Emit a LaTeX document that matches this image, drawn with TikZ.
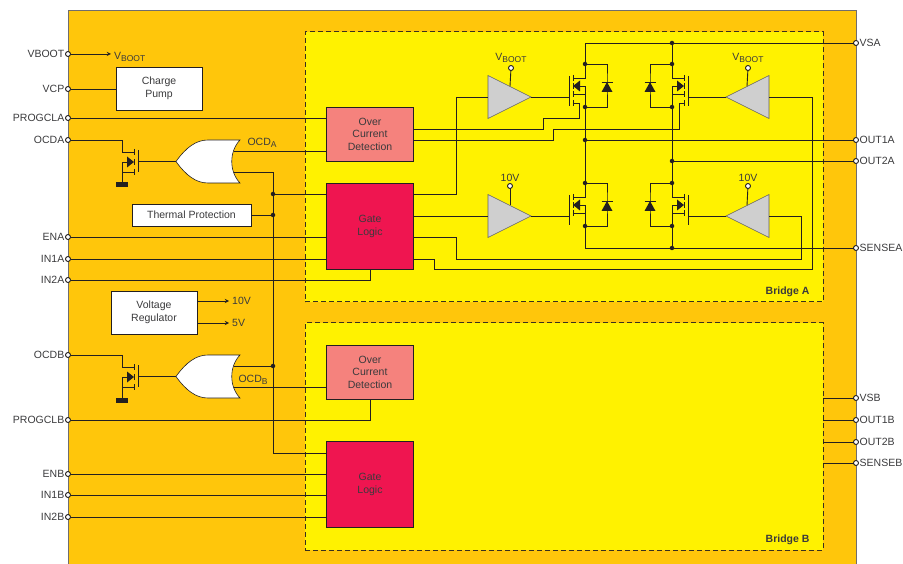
\documentclass[tikz,border=0pt]{standalone}
\usepackage{fontspec}
\setmainfont{Liberation Sans}
\usetikzlibrary{arrows, positioning}
\definecolor{chipfill}{HTML}{FFC60B}
\definecolor{bridgefill}{HTML}{FFF200}
\definecolor{ocdfill}{HTML}{F5827D}
\definecolor{logicfill}{HTML}{EF1550}
\definecolor{ampfill}{HTML}{CFCFCF}
\definecolor{inkdark}{HTML}{231F20}
\definecolor{txtdark}{HTML}{3A3A3C}
\tikzstyle{wire} = [line width=0.9pt, draw=inkdark]
\tikzstyle{arrow} = [line width=0.9pt, draw=inkdark, ->, >=stealth]
\tikzstyle{whitebox} = [rectangle, draw=inkdark, line width=0.9pt, fill=white, text=txtdark, align=center, outer sep=0pt, inner sep=0pt]
\tikzstyle{ocdbox} = [rectangle, draw=inkdark, line width=0.9pt, fill=ocdfill, text=txtdark, align=center, minimum width=87pt, minimum height=54pt, outer sep=0pt]
\tikzstyle{logicbox} = [rectangle, draw=inkdark, line width=0.9pt, fill=logicfill, text=txtdark, align=center, minimum width=87pt, minimum height=86.5pt, outer sep=0pt]
\tikzstyle{bridge} = [rectangle, draw=inkdark!90!chipfill, line width=1pt, dashed, dash pattern=on 5pt off 3pt, fill=bridgefill, minimum width=518pt, outer sep=0pt]
\tikzstyle{pad} = [circle, draw=inkdark, line width=0.9pt, fill=white, minimum size=5pt, inner sep=0pt, outer sep=0pt]
\tikzstyle{junction} = [circle, fill=inkdark, minimum size=4.5pt, inner sep=0pt, outer sep=0pt]
\tikzstyle{pintext} = [text=txtdark, inner sep=1pt]
\tikzset{every node/.append style={font=\fontsize{10.5}{12.5}\selectfont}}
\newcommand{\subtxt}[2]{#1\raisebox{-2.5pt}{\fontsize{8.5}{10}\selectfont #2}}
% name, x, y of the upper stub, direction, stub spacing, gate bar length
\newcommand{\fetsym}[6]{
  \begin{scope}[shift={(#2,#3)}, xscale=#4]
    \coordinate (#1-d) at (-12,0);
    \coordinate (#1-s) at (-5,#5);
    \coordinate (#1-b) at (-12,2*#5);
    \coordinate (#1-t) at (-12,3*#5+1);
    \coordinate (#1-g) at (-16,0);
    \draw [wire] (-16,-2) -- (-16,#6-2);
    \draw [wire] (-12,-3) -- (-12,3);
    \draw [wire] (-12,#5-3) -- (-12,#5+3);
    \draw [wire] (-12,2*#5-3) -- (-12,2*#5+3);
    \draw [wire] (-12,0) -- (0,0);
    \draw [wire] (-12,2*#5) -- (0,2*#5);
    \fill [inkdark] (-12,#5) -- (-5,#5-5.5) -- (-5,#5+5.5) -- cycle;
  \end{scope}
}
\newcommand{\ampsym}[4]{
  \begin{scope}[shift={(#2,#3)}, xscale=#4]
    \coordinate (#1-in) at (0,0);
    \coordinate (#1-out) at (43,0);
    \coordinate (#1-p) at (22,-10.75);
    \draw [fill=ampfill, draw=inkdark!70, line width=0.6pt] (0,-21.5) -- (43,0) -- (0,21.5) -- cycle;
  \end{scope}
}
\newcommand{\diodesym}[3]{
  \coordinate (#1) at (#2,#3);
  \fill [inkdark] (#2,#3) -- (#2-5.5,#3+10) -- (#2+5.5,#3+10) -- cycle;
  \draw [wire] (#2-5.5,#3) -- (#2+5.5,#3);
}
\newcommand{\orgate}[3]{
  \begin{scope}[shift={(#2,#3)}]
    \coordinate (#1-g) at (0,0);
    \coordinate (#1-t) at (58,-10.5);
    \coordinate (#1-b) at (58,10.5);
    \draw [fill=white, draw=inkdark, line width=0.6pt] (64,-21.5) -- (32,-21.5) .. controls (20,-21.5) and (10,-14) .. (0,0) .. controls (10,14) and (20,21.5) .. (32,21.5) -- (64,21.5) .. controls (53,10) and (53,-10) .. (64,-21.5) -- cycle;
  \end{scope}
}
\begin{document}
\begin{tikzpicture}[x=1pt, y=-1pt]
\useasboundingbox (0,0) rectangle (903,564);

% Package
\fill [chipfill] (68,11) rectangle (856,564);
\draw [line width=1pt, draw=inkdark!65] (68,564) -- (68,11) -- (856,11) -- (856,564);

% Bridges
\node (bridgeA) [bridge, minimum height=270pt] at (564,167) {};
\node (bridgeB) [bridge, minimum height=227pt, below=21pt of bridgeA] {};
\node (nameA) [anchor=east, text=txtdark, font=\fontsize{10.5}{12.5}\selectfont\bfseries] at (813,291.5) {Bridge A};
\node (nameB) [anchor=east, text=txtdark, font=\fontsize{10.5}{12.5}\selectfont\bfseries] at (813,540) {Bridge B};

% Left pads
\node (pVBOOT) [pad, label={[pintext]left:VBOOT}] at (68,54) {};
\node (pVCP) [pad, label={[pintext]left:VCP}] at (68,89) {};
\node (pPROGCLA) [pad, label={[pintext]left:PROGCLA}] at (68,118) {};
\node (pOCDA) [pad, label={[pintext]left:OCDA}] at (68,140) {};
\node (pENA) [pad, label={[pintext]left:ENA}] at (68,237) {};
\node (pINoneA) [pad, label={[pintext]left:IN1A}] at (68,259) {};
\node (pINtwoA) [pad, label={[pintext]left:IN2A}] at (68,280) {};
\node (pOCDB) [pad, label={[pintext]left:OCDB}] at (68,355) {};
\node (pPROGCLB) [pad, label={[pintext]left:PROGCLB}] at (68,420) {};
\node (pENB) [pad, label={[pintext]left:ENB}] at (68,474) {};
\node (pINoneB) [pad, label={[pintext]left:IN1B}] at (68,495) {};
\node (pINtwoB) [pad, label={[pintext]left:IN2B}] at (68,517) {};

% Right pads
\node (pVSA) [pad, label={[pintext]right:VSA}] at (856,43) {};
\node (pOUToneA) [pad, label={[pintext]right:OUT1A}] at (856,140) {};
\node (pOUTtwoA) [pad, label={[pintext]right:OUT2A}] at (856,161) {};
\node (pSENSEA) [pad, label={[pintext]right:SENSEA}] at (856,248) {};
\node (pVSB) [pad, label={[pintext]right:VSB}] at (856,398) {};
\node (pOUToneB) [pad, label={[pintext]right:OUT1B}] at (856,420) {};
\node (pOUTtwoB) [pad, label={[pintext]right:OUT2B}] at (856,442) {};
\node (pSENSEB) [pad, label={[pintext]right:SENSEB}] at (856,463) {};

% Boxes
\node (pump) [whitebox, minimum width=86pt, minimum height=43pt] at (159,88.5) {Charge\\Pump};
\node (thermal) [whitebox, minimum width=119pt, minimum height=22pt] at (191.5,215) {Thermal Protection};
\node (regulator) [whitebox, minimum width=86pt, minimum height=43pt] at (154,312.5) {Voltage\\Regulator};
\node (ocdA) [ocdbox] at (370,134) {Over\\Current\\Detection};
\node (gateA) [logicbox, below=22pt of ocdA] {Gate\\Logic};
\node (ocdB) [ocdbox] at (370,372) {Over\\Current\\Detection};
\node (gateB) [logicbox, below=42pt of ocdB] {Gate\\Logic};
\node (gndA) [rectangle, fill=inkdark, minimum width=12pt, minimum height=5pt, inner sep=0pt, outer sep=0pt] at (122,185) {};
\node (gndB) [rectangle, fill=inkdark, minimum width=12pt, minimum height=5pt, inner sep=0pt, outer sep=0pt] at (122,400.5) {};

% Output stage
\fetsym{fetUL}{585}{78}{1}{8}{30}
\fetsym{fetUR}{672}{78}{-1}{8}{30}
\fetsym{fetLL}{585}{197}{1}{8}{30}
\fetsym{fetLR}{672}{197}{-1}{8}{30}
\fetsym{fetOA}{122}{152}{-1}{10}{22}
\fetsym{fetOB}{122}{367}{-1}{10}{22}
\ampsym{ampUL}{488}{97}{1}
\ampsym{ampUR}{769}{97}{-1}
\ampsym{ampLL}{488}{216}{1}
\ampsym{ampLR}{769}{216}{-1}
\orgate{orA}{176}{161.5}
\orgate{orB}{176}{376.5}

% Junctions
\node (dVSA) [junction] at (672,43) {};
\node (dUL1) [junction] at (585,64) {};
\node (dUL2) [junction] at (585,107) {};
\node (dUR1) [junction] at (672,64) {};
\node (dUR2) [junction] at (672,107) {};
\node (dOUT1) [junction] at (585,140) {};
\node (dOUT2) [junction] at (672,161) {};
\node (dLL1) [junction] at (585,183) {};
\node (dLL2) [junction] at (585,226) {};
\node (dLR1) [junction] at (672,183) {};
\node (dLR2) [junction] at (672,226) {};
\node (dSENSE) [junction] at (672,248) {};
\node (dLogicA) [junction] at (273,194) {};
\node (dTherm) [junction] at (273,215) {};
\node (dOrB) [junction] at (273,366) {};

% Supply pads of the drivers
\node (vUL) [pad, label={[pintext, label distance=1.5pt]above:\subtxt{V}{BOOT}}] at (511,68) {};
\node (vUR) [pad, label={[pintext, label distance=1.5pt]above:\subtxt{V}{BOOT}}] at (748,68) {};
\node (vLL) [pad, label={[pintext, label distance=1pt]above:10V}] at (510,186) {};
\node (vLR) [pad, label={[pintext, label distance=1pt]above:10V}] at (748,186) {};

% Free labels
\node (vbootout) [anchor=west, text=txtdark, inner sep=3pt] at (111,57) {\subtxt{V}{BOOT}};
\node (tenV) [anchor=west, text=txtdark, inner sep=3pt] at (229,301) {10V};
\node (fiveV) [anchor=west, text=txtdark, inner sep=3pt] at (229,323) {5V};
\node (ocdAname) [text=txtdark, inner sep=0pt] at (262,143) {\subtxt{OCD}{A}};
\node (ocdBname) [text=txtdark, inner sep=0pt] at (253,380) {\subtxt{OCD}{B}};

% Box outputs
\coordinate (ocdAo1) at (413,129);
\coordinate (ocdAo2) at (413,140);
\coordinate (gateAo1) at (413,194);
\coordinate (gateAo2) at (413,216);
\coordinate (gateAo3) at (413,237);
\coordinate (gateAo4) at (413,259);
\coordinate (gateBi) at (327,453);

% Draw Wires: left side
\draw [arrow] (pVBOOT) -- (vbootout.west |- pVBOOT);
\draw [wire] (pVCP) -- (pVCP -| pump.west);
\draw [wire] (pPROGCLA) -- (pPROGCLA -| ocdA.west);
\draw [wire] (pOCDA) -- (122,140) |- (fetOA-d);
\draw [wire] (pOCDB) -- (122,355) |- (fetOB-d);
\draw [wire] (gndA.north) |- (fetOA-s);
\draw [wire] (gndA.north) |- (fetOA-b);
\draw [wire] (gndB.north) |- (fetOB-s);
\draw [wire] (gndB.north) |- (fetOB-b);
\draw [wire] (orA-g) -- (orA-g -| fetOA-g);
\draw [wire] (orB-g) -- (orB-g -| fetOB-g);
\draw [wire] (orA-t) -- (orA-t -| ocdA.west);
\draw [wire] (orB-b) -- (orB-b -| ocdB.west);
\draw [wire] (orA-b) -| (dLogicA);
\draw [wire] (orB-t) -- (dOrB);
\draw [wire] (dLogicA) -- (dTherm);
\draw [wire] (dTherm) -- (dOrB);
\draw [wire] (dOrB) |- (gateBi);
\draw [wire] (dLogicA) -- (dLogicA -| gateA.west);
\draw [wire] (thermal) -- (dTherm);
\draw [wire] (pENA) -- (pENA -| gateA.west);
\draw [wire] (pINoneA) -- (pINoneA -| gateA.west);
\draw [wire] (pINtwoA) -| (gateA.south);
\draw [wire] (pPROGCLB) -| (ocdB.south);
\draw [wire] (pENB) -- (pENB -| gateB.west);
\draw [wire] (pINoneB) -- (pINoneB -| gateB.west);
\draw [wire] (pINtwoB) -- (pINtwoB -| gateB.west);
\draw [arrow] (regulator.east |- tenV) -- (tenV);
\draw [arrow] (regulator.east |- fiveV) -- (fiveV);

% Draw Wires: drivers
\draw [wire] (gateAo1) -| (456,97) -- (ampUL-in);
\draw [wire] (gateAo2) -- (ampLL-in);
\draw [wire] (gateAo3) -- (456,237) -- (456,259) -- (801,259) -- (801,216) -- (ampLR-in);
\draw [wire] (gateAo4) -- (434,259) -- (434,269) -- (812,269) -- (812,97) -- (ampUR-in);
\draw [wire] (ocdAo1) -- (543,129) -- (543,118) -- (579,118) -- (579,103) -- (fetUL-t);
\draw [wire] (ocdAo2) -- (553,140) -- (553,129) -- (679,129) -- (679,103) -- (fetUR-t);
\draw [wire] ([yshift=3pt]fetUL-t) -- ([yshift=-3pt]fetUL-t);
\draw [wire] ([yshift=3pt]fetUR-t) -- ([yshift=-3pt]fetUR-t);
\draw [wire] (vUL) -- (ampUL-p);
\draw [wire] (vUR) -- (ampUR-p);
\draw [wire] (vLL) -- (ampLL-p);
\draw [wire] (vLR) -- (ampLR-p);
\draw [wire] (ampUL-out) -- (ampUL-out -| fetUL-g);
\draw [wire] (ampUR-out) -- (ampUR-out -| fetUR-g);
\draw [wire] (ampLL-out) -- (ampLL-out -| fetLL-g);
\draw [wire] (ampLR-out) -- (ampLR-out -| fetLR-g);

% Draw Wires: rails
\draw [wire] (pVSA) -- (dVSA);
\draw [wire] (dVSA) -| (dUL1);
\draw [wire] (dVSA) -- (dUR1);
\draw [wire] (dUL1) |- (fetUL-d);
\draw [wire] (dUR1) |- (fetUR-d);
\draw [wire] (dLL1) |- (fetLL-d);
\draw [wire] (dLR1) |- (fetLR-d);
\draw [wire] (dUL2) |- (fetUL-s);
\draw [wire] (dUL2) |- (fetUL-b);
\draw [wire] (dUR2) |- (fetUR-s);
\draw [wire] (dUR2) |- (fetUR-b);
\draw [wire] (dLL2) |- (fetLL-s);
\draw [wire] (dLL2) |- (fetLL-b);
\draw [wire] (dLR2) |- (fetLR-s);
\draw [wire] (dLR2) |- (fetLR-b);
\draw [wire] (dUL2) -- (dOUT1);
\draw [wire] (dOUT1) -- (dLL1);
\draw [wire] (dUR2) -- (dOUT2);
\draw [wire] (dOUT2) -- (dLR1);
\draw [wire] (dOUT1) -- (pOUToneA);
\draw [wire] (dOUT2) -- (pOUTtwoA);
\draw [wire] (dLL2) |- (dSENSE);
\draw [wire] (dLR2) -- (dSENSE);
\draw [wire] (dSENSE) -- (pSENSEA);
\draw [wire] (pVSB) -- (pVSB -| bridgeB.east);
\draw [wire] (pOUToneB) -- (pOUToneB -| bridgeB.east);
\draw [wire] (pOUTtwoB) -- (pOUTtwoB -| bridgeB.east);
\draw [wire] (pSENSEB) -- (pSENSEB -| bridgeB.east);

% Diodes
\diodesym{dioUL}{607}{82}
\diodesym{dioUR}{650}{82}
\diodesym{dioLL}{607}{201}
\diodesym{dioLR}{650}{201}
\draw [wire] (dUL1) -| (dioUL) |- (dUL2);
\draw [wire] (dUR1) -| (dioUR) |- (dUR2);
\draw [wire] (dLL1) -| (dioLL) |- (dLL2);
\draw [wire] (dLR1) -| (dioLR) |- (dLR2);

\end{tikzpicture}
\end{document}
